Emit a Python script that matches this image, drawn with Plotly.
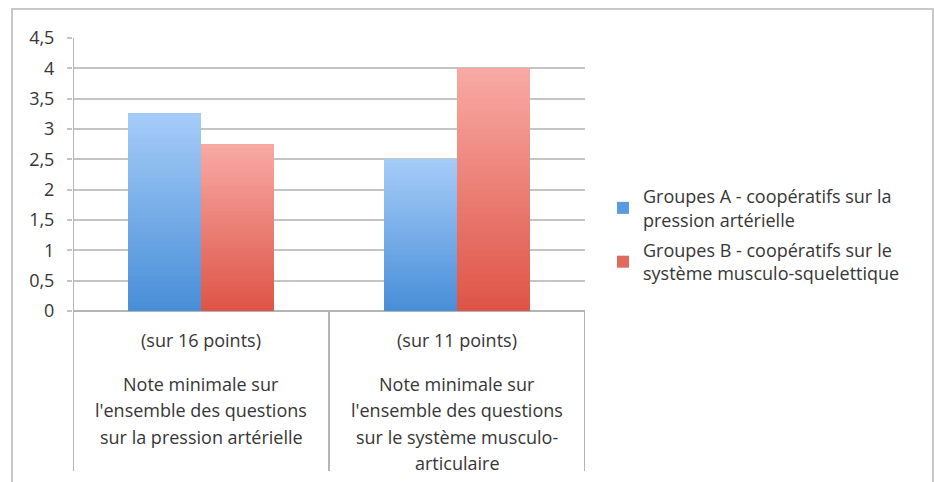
import plotly.graph_objects as go

categories = ["cat1", "cat2"]
cat_head = ["(sur 16 points)", "(sur 11 points)"]
cat_lines = [
    ["Note minimale sur", "l'ensemble des questions", "sur la pression artérielle"],
    ["Note minimale sur", "l'ensemble des questions", "sur le système musculo-", "articulaire"],
]
series_names = ["Groupes A - coopératifs sur la<br>pression artérielle",
                "Groupes B - coopératifs sur le<br>système musculo-squelettique"]
group_a = [3.25, 2.5]
group_b = [2.75, 4.0]
y_ticks = [0, 0.5, 1, 1.5, 2, 2.5, 3, 3.5, 4, 4.5]
y_tick_text = ["0", "0,5", "1", "1,5", "2", "2,5", "3", "3,5", "4", "4,5"]

FONT = "Open Sans"
FS = 18
TXT = "#363636"
W, H = 934, 482
L, R, T, B = 73, 349, 38, 171
PW, PH = W - L - R, H - T - B

grad = {
    "A": ((166, 204, 248), (72, 142, 216)),
    "B": ((248, 170, 164), (222, 84, 70)),
}
legend_col = {"A": "#5a9ae0", "B": "#e06a60"}

fig = go.Figure()
N = 40
for key, vals in (("A", group_a), ("B", group_b)):
    top, bot = grad[key]
    for k in range(N):
        t = (k + 0.5) / N
        c = tuple(round(bot[i] + (top[i] - bot[i]) * t) for i in range(3))
        fig.add_trace(go.Bar(
            x=categories, y=[v * (N - k) / N for v in vals],
            base=[v * k / N for v in vals],
            offsetgroup=key, legendgroup=key,
            marker=dict(color="rgb(%d,%d,%d)" % c, line=dict(width=0)),
            showlegend=False, hoverinfo="skip",
        ))
for key, name in (("A", series_names[0]), ("B", series_names[1])):
    fig.add_trace(go.Bar(x=categories, y=[None, None], name=name, offsetgroup=key,
                         legendgroup=key,
                         marker=dict(color=legend_col[key], line=dict(width=0))))

shapes = []
# outer border
shapes.append(dict(type="rect", xref="paper", yref="paper",
                   x0=(12 - L) / PW, x1=(933 - L) / PW,
                   y0=(311 - 520) / PH, y1=(311 - 9) / PH,
                   line=dict(color="#c8c8c8", width=2)))
# category separators
for xv in (-0.5, 0.5, 1.5):
    shapes.append(dict(type="line", xref="x", yref="paper", x0=xv, x1=xv,
                       y0=1 if xv == -0.5 else 0, y1=(311 - 471) / PH,
                       line=dict(color="#b4b4b4", width=2)))

annotations = []
for i, cat in enumerate(categories):
    annotations.append(dict(x=cat, xref="x", yref="paper", y=(311 - 340) / PH,
                            text=cat_head[i], showarrow=False, yanchor="middle",
                            font=dict(family=FONT, size=FS, color=TXT)))
    for j, line in enumerate(cat_lines[i]):
        annotations.append(dict(x=cat, xref="x", yref="paper",
                                y=(311 - (384 + 26.3 * j)) / PH,
                                text=line, showarrow=False, yanchor="middle",
                                font=dict(family=FONT, size=FS, color=TXT)))

fig.update_layout(
    width=W, height=H,
    margin=dict(l=L, r=R, t=T, b=B, autoexpand=False),
    paper_bgcolor="white", plot_bgcolor="white",
    barmode="group", bargap=0.43, bargroupgap=0,
    font=dict(family=FONT, size=FS, color=TXT),
    xaxis=dict(range=[-0.5, 1.5], showticklabels=False, showgrid=False,
               zeroline=False, showline=False, ticks=""),
    yaxis=dict(range=[0, 4.5], tickvals=y_ticks, ticktext=y_tick_text,
               showgrid=True, gridcolor="#c4c4c4", gridwidth=2,
               zeroline=True, zerolinecolor="#b4b4b4", zerolinewidth=2,
               showline=False, ticks="outside", ticklen=5, tickwidth=2,
               tickcolor="#c4c4c4", ticklabelstandoff=9,
               tickfont=dict(family=FONT, size=FS, color=TXT)),
    legend=dict(x=(603 - L) / PW, xanchor="left", y=(311 - 235) / PH, yanchor="middle",
                font=dict(family=FONT, size=FS, color=TXT),
                itemwidth=30, traceorder="grouped", tracegroupgap=4,
                bgcolor="rgba(0,0,0,0)"),
    shapes=shapes, annotations=annotations,
)
fig.write_html("out.html", config={"displayModeBar": False},
               post_script="document.body.style.margin='0';")
